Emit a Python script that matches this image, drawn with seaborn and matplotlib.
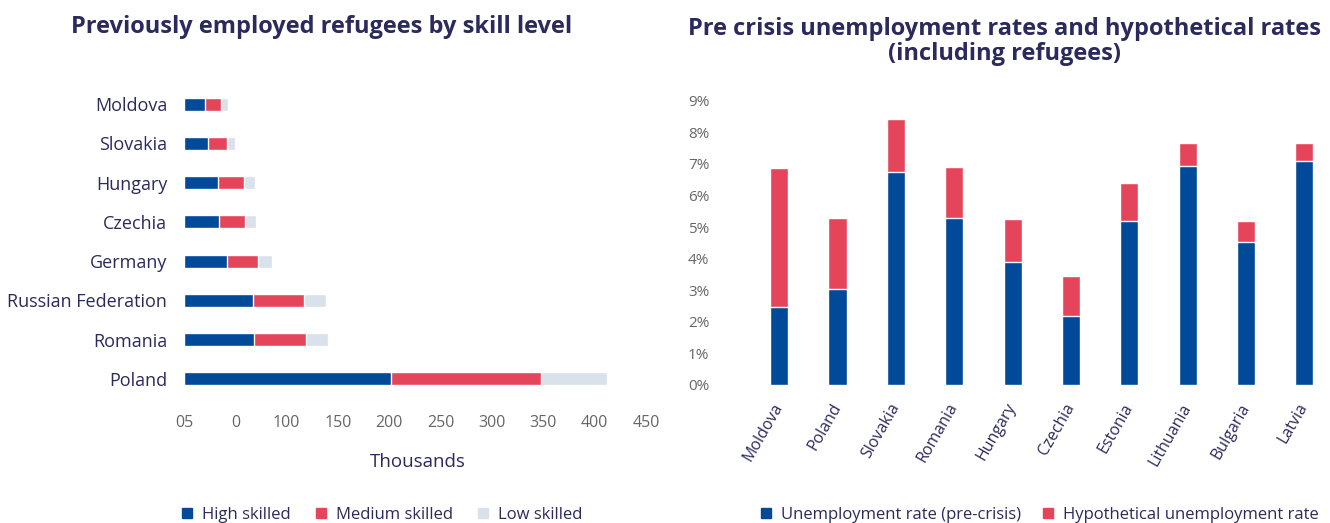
import matplotlib
matplotlib.use("Agg")
import matplotlib.pyplot as plt
import seaborn as sns
import pandas as pd
import numpy as np
from matplotlib.patches import Patch
from matplotlib.ticker import FixedLocator, FixedFormatter

# ---------------- data ----------------
host_countries = ["Moldova", "Slovakia", "Hungary", "Czechia", "Germany",
                  "Russian Federation", "Romania", "Poland"]
high_skilled = [20.5, 23.5, 33.5, 34, 41.5, 67, 68, 201.5]
medium_skilled = [15.5, 18.5, 25, 25.5, 30.5, 50, 50.5, 146]
low_skilled = [6.5, 8, 10.5, 10.5, 13.5, 21.5, 22, 64.5]
x_tick_values = [0, 50, 100, 150, 200, 250, 300, 350, 400, 450]
x_tick_labels = ["05", "0", "100", "150", "200", "250", "300", "350", "400", "450"]

rate_countries = ["Moldova", "Poland", "Slovakia", "Romania", "Hungary",
                  "Czechia", "Estonia", "Lithuania", "Bulgaria", "Latvia"]
pre_crisis_rate = [2.48, 3.04, 6.75, 5.30, 3.90, 2.19, 5.19, 6.94, 4.53, 7.10]
hypothetical_rate = [6.88, 5.28, 8.41, 6.89, 5.25, 3.46, 6.40, 7.65, 5.18, 7.65]
y_tick_values = [0, 1, 2, 3, 4, 5, 6, 7, 8, 9]

# ---------------- style ----------------
sns.set_style("white")
plt.rcParams["font.family"] = ["Open Sans", "Noto Sans", "DejaVu Sans"]

BLUE = "#004a99"
RED = "#e5455a"
GREY = "#d9e1eb"
NAVY = "#2b2a5c"
TICK_GREY = "#666666"

W, H = 1330, 523
fig = plt.figure(figsize=(W / 100, H / 100), dpi=100)

# ---------------- left chart ----------------
df_left = pd.DataFrame({
    "country": host_countries,
    "high": high_skilled,
    "medium": medium_skilled,
    "low": low_skilled,
})
df_left["cum_med"] = df_left["high"] + df_left["medium"]
df_left["cum_low"] = df_left["cum_med"] + df_left["low"]

ax1 = fig.add_axes([184 / W, 1 - 398.6 / H, 467 / W, 314.2 / H])
for col, color in [("cum_low", GREY), ("cum_med", RED), ("high", BLUE)]:
    sns.barplot(data=df_left, y="country", x=col, orient="h", color=color,
                width=0.33, saturation=1, ax=ax1, order=host_countries)
ax1.set_xlim(0, 455)
ax1.set_ylim(7.5, -0.5)
ax1.xaxis.set_major_locator(FixedLocator(x_tick_values))
ax1.xaxis.set_major_formatter(FixedFormatter(x_tick_labels))
ax1.tick_params(axis="x", length=0, pad=12, labelsize=11.5, labelcolor=TICK_GREY)
ax1.tick_params(axis="y", length=0, pad=12, labelsize=13, labelcolor=NAVY)
ax1.set_ylabel("")
ax1.set_xlabel("Thousands", fontsize=13.5, color=NAVY, labelpad=16)
for s in ax1.spines.values():
    s.set_visible(False)
fig.text(322 / W, 1 - 27 / H, "Previously employed refugees by skill level",
         ha="center", va="center", fontsize=17, fontweight="bold", color=NAVY)

# ---------------- right chart ----------------
df_right = pd.DataFrame({
    "country": rate_countries,
    "pre": [v / 100 for v in pre_crisis_rate],
    "hyp": [v / 100 for v in hypothetical_rate],
})
ax2 = fig.add_axes([715 / W, 1 - 385 / H, 615 / W, 284.3 / H])
sns.barplot(data=df_right, x="country", y="hyp", color=RED, width=0.31,
            saturation=1, ax=ax2, order=rate_countries)
sns.barplot(data=df_right, x="country", y="pre", color=BLUE, width=0.31,
            saturation=1, ax=ax2, order=rate_countries)
ax2.set_xlim(-1.10, 9.44)
ax2.set_ylim(0, 0.09)
ax2.yaxis.set_major_locator(FixedLocator([v / 100 for v in y_tick_values]))
ax2.yaxis.set_major_formatter(FixedFormatter([f"{v}%" for v in y_tick_values]))
ax2.tick_params(axis="y", length=0, pad=4, labelsize=11, labelcolor=TICK_GREY)
ax2.tick_params(axis="x", length=0, pad=14, labelsize=11.5, labelcolor=NAVY)
for lab in ax2.get_xticklabels():
    lab.set_rotation(60)
    lab.set_ha("right")
    lab.set_va("center")
    lab.set_rotation_mode("anchor")
ax2.set_xlabel("")
ax2.set_ylabel("")
for s in ax2.spines.values():
    s.set_visible(False)
fig.text(1005 / W, 1 - 41.5 / H,
         "Pre crisis unemployment rates and hypothetical rates\n(including refugees)",
         ha="center", va="center", fontsize=17, fontweight="bold", color=NAVY,
         linespacing=1.08)

# ---------------- legends ----------------
left_handles = [Patch(color=BLUE, label="High skilled"),
                Patch(color=RED, label="Medium skilled"),
                Patch(color=GREY, label="Low skilled")]
fig.legend(handles=left_handles, loc="center", bbox_to_anchor=(382 / W, 1 - 515 / H),
           ncol=3, frameon=False, fontsize=12, labelcolor=NAVY,
           handlelength=0.6, handleheight=0.6, handletextpad=0.6, columnspacing=1.5)
right_handles = [Patch(color=BLUE, label="Unemployment rate (pre-crisis)"),
                 Patch(color=RED, label="Hypothetical unemployment rate")]
fig.legend(handles=right_handles, loc="center", bbox_to_anchor=(1040 / W, 1 - 515 / H),
           ncol=2, frameon=False, fontsize=12, labelcolor=NAVY,
           handlelength=0.6, handleheight=0.6, handletextpad=0.6, columnspacing=1.3)

fig.savefig("out.png", dpi=100)
